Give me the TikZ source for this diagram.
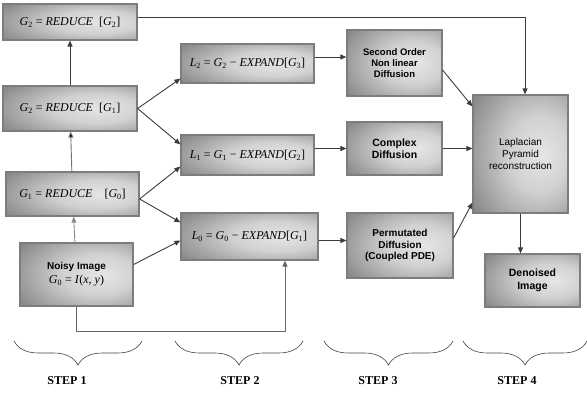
\documentclass[tikz,border=0pt]{standalone}
\usepackage{fontspec}
\setmainfont{Liberation Serif}
\setsansfont{Liberation Sans}
\usepackage{tikz}
\usetikzlibrary{arrows.meta, positioning, decorations.pathreplacing, calc}
\definecolor{bordeGris}{RGB}{125,125,125}
\definecolor{lineaGris}{RGB}{60,60,60}
\pgfdeclareradialshading{cajaSombra}{\pgfpoint{12bp}{0bp}}{color(0bp)=(black!10); color(16bp)=(black!18); color(38bp)=(black!45); color(58bp)=(black!68); color(100bp)=(black!70)}
\newcommand{\lsub}[1]{\textsubscript{#1}}

\begin{document}
\begin{tikzpicture}[
  x=1pt, y=1pt,
  box/.style={rectangle, draw=bordeGris, line width=1.2pt, shading=cajaSombra,
              inner sep=2pt, align=center},
  eqn/.style={box, font=\fontsize{12}{14}\selectfont},
  proc/.style={box, font=\sffamily\bfseries\fontsize{9.5}{11}\selectfont},
  arrow/.style={-{Triangle[length=6pt,width=5pt]}, line width=0.9pt, color=lineaGris},
  brace/.style={decorate, decoration={brace, amplitude=24pt}, line width=0.6pt, color=black!75},
  steplbl/.style={font=\bfseries\fontsize{12}{14}\selectfont}
]
\useasboundingbox (0,0) rectangle (587,394);

% Columna 1: piramide gaussiana
\node[eqn, minimum width=134, minimum height=36] (g2top) at (70,372)
  {\textit{G}\lsub{2} = \textit{REDUCE}\; [\textit{G}\lsub{2}]};
\node[eqn, minimum width=134, minimum height=45] (g2) at (70,285.5)
  {\textit{G}\lsub{2} = \textit{REDUCE}\; [\textit{G}\lsub{1}]};
\node[eqn, minimum width=133, minimum height=44] (g1) at (72.5,200)
  {\textit{G}\lsub{1} = \textit{REDUCE}\quad[\textit{G}\lsub{0}]};
\node[eqn, minimum width=113, minimum height=63] (noisy) at (76.5,119.5)
  {{\sffamily\bfseries\fontsize{10}{12}\selectfont Noisy Image}\\
   \textit{G}\lsub{0} = \textit{I}(\textit{x}, \textit{y})};

% Columna 2: niveles laplacianos
\node[eqn, minimum width=133, minimum height=39] (l2) at (247.5,330.5)
  {\textit{L}\lsub{2} = \textit{G}\lsub{2} − \textit{EXPAND}[\textit{G}\lsub{3}]};
\node[eqn, minimum width=133, minimum height=40] (l1) at (247.5,239)
  {\textit{L}\lsub{1} = \textit{G}\lsub{1} − \textit{EXPAND}[\textit{G}\lsub{2}]};
\node[eqn, minimum width=137, minimum height=47] (l0) at (249.5,157.5)
  {\textit{L}\lsub{0} = \textit{G}\lsub{0} − \textit{EXPAND}[\textit{G}\lsub{1}]};

% Columna 3: difusiones
\node[proc, minimum width=95, minimum height=66] (so) at (394.5,331)
  {Second Order\\Non linear\\Diffusion};
\node[proc, minimum width=95, minimum height=53, font=\sffamily\bfseries\fontsize{10.5}{12.5}\selectfont] (cplx) at (394.5,245.5)
  {Complex\\Diffusion};
\node[proc, minimum width=106, minimum height=65, font=\sffamily\bfseries\fontsize{10}{11.5}\selectfont] (perm) at (400,148.5)
  {Permutated\\Diffusion\\(Coupled PDE)};

% Columna 4: reconstruccion
\node[proc, minimum width=95, minimum height=118, font=\sffamily\fontsize{10}{12}\selectfont] (lap) at (520.5,240)
  {Laplacian\\Pyramid\\reconstruction};
\node[proc, minimum width=95, minimum height=53, font=\sffamily\bfseries\fontsize{10.5}{12.5}\selectfont] (den) at (532.5,113.5)
  {Denoised\\Image};

\coordinate (lazo) at (285,63);

% Flechas piramide
\draw[arrow] (g2) -- (g2top);
\draw[arrow, -{Triangle[length=6pt,width=5pt,fill=black]}, color=black!55] (g1) -- (g2);
\draw[arrow, color=black!45] (noisy) -- (g1);

% Flechas hacia los laplacianos
\draw[arrow] (g2.east) -- ([yshift=5]l2.south west);
\draw[arrow] (g2.east) -- ([yshift=-10]l1.north west);
\draw[arrow] ([yshift=-5]g1.east) -- ([yshift=9]l1.south west);
\draw[arrow] ([yshift=-5]g1.east) -- ([yshift=-10]l0.north west);
\draw[arrow] ([yshift=10]noisy.east) -- ([yshift=-4]l0.west);
\draw[arrow, color=black!60] (noisy.south) |- (lazo) -- (lazo |- l0.south);

% Flechas hacia las difusiones
\draw[arrow] ([yshift=6.5]l2.east) -- ([yshift=6.5]l2.east -| so.west);
\draw[arrow] (l1.east |- cplx.west) -- (cplx.west);
\draw[arrow] ([yshift=-4]l0.east) -- ([yshift=-4]l0.east -| perm.west);

% Flechas hacia la reconstruccion
\draw[arrow] ([yshift=-7]so.east) -- ([yshift=-12]lap.north west);
\draw[arrow] (cplx.east) -- (cplx.east -| lap.west);
\draw[arrow] ([yshift=7.5]perm.east) -- ([yshift=11]lap.south west);
\draw[arrow] ([yshift=5]g2top.east) -| ([xshift=4.5]lap.north);
\draw[arrow] (lap.south) -- (lap.south |- den.north);

% Llaves y pasos
\draw[brace] (142,53) -- (14,53);
\draw[brace] (303,53) -- (175,53);
\draw[brace] (453,53) -- (324,53);
\draw[brace] (587,53) -- (463,53);
\node[steplbl] (paso1) at (67,13)  {STEP 1};
\node[steplbl] (paso2) at (240,13) {STEP 2};
\node[steplbl] (paso3) at (378,13) {STEP 3};
\node[steplbl] (paso4) at (517,13) {STEP 4};

\end{tikzpicture}
\end{document}
